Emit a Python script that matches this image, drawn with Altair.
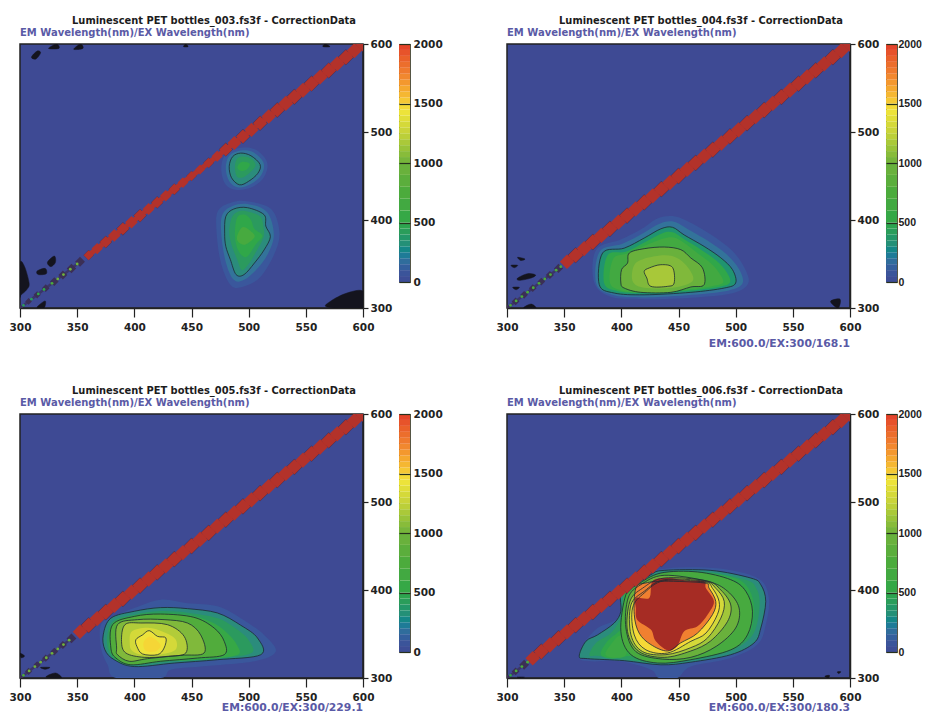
import altair as alt
import pandas as pd

FONT = "DejaVu Sans"
NARROW_FONT = "Liberation Sans"
BG = "#3e4a94"
INK = "#222222"
SUB = "#5a5aa6"

LEVELS = [0, 100, 200, 300, 400, 500, 750, 1000, 1250, 1450, 1550, 1750, 2000, 2100]
COLORS = ["#3e4a94", "#3a579c", "#33739a", "#2b8c7c", "#2b9a5e", "#30a749", "#4cab3c", "#6fb23c",
          "#c4d23a", "#f3e53a", "#f5bf35", "#f08030", "#e23c2a", "#a62c24"]
COLOR_SCALE = alt.Scale(domain=LEVELS, range=COLORS, clamp=True)

NAMES = ["Luminescent PET bottles_003.fs3f - CorrectionData",
         "Luminescent PET bottles_004.fs3f - CorrectionData",
         "Luminescent PET bottles_005.fs3f - CorrectionData",
         "Luminescent PET bottles_006.fs3f - CorrectionData"]
SUBTITLE = "EM Wavelength(nm)/EX Wavelength(nm)"
FOOTERS = ["", "EM:600.0/EX:300/168.1", "EM:600.0/EX:300/229.1", "EM:600.0/EX:300/180.3"]

X_TICKS = [300, 350, 400, 450, 500, 550, 600]
Y_TICKS = [300, 400, 500, 600]
BAR_TICKS = [0, 500, 1000, 1500, 2000]
BAR_EDGES = [0, 50, 100, 150, 200, 250, 300, 350, 400, 450, 500, 600, 700, 800, 900, 1000, 1050, 1100, 1150,
             1200, 1250, 1300, 1350, 1400, 1450, 1500, 1550, 1600, 1650, 1700, 1750, 1800, 1850, 1900, 1950, 2000]

# (level, has contour line, outline)
P1 = [
    (100, 0, [(476,458),(480,475),(493,482),(506,480),(516,466),(514,450),(504,438),(490,434),(480,440)]),
    (200, 0, [(480,459),(483,473),(493,479),(504,477),(513,465),(511,451),(502,441),(491,437),(483,444)]),
    (300, 1, [(483,461),(486,472),(493,476),(502,473),(510,463),(508,453),(500,444),(492,440),(485,448)]),
    (400, 0, [(488,460),(490,470),(497,472),(503,469),(506,462),(502,455),(496,449),(490,449)]),
    (500, 0, [(490,460),(494,466),(501,464),(498,457),(493,456)]),
    (100, 0, [(472,385),(473,410),(485,420),(500,421),(520,412),(527,385),(522,360),(510,335),(497,325),(485,325),(476,350)]),
    (200, 0, [(476,385),(477,406),(486,416),(500,418),(516,409),(522,384),(517,362),(507,344),(496,332),(487,332),(480,352)]),
    (300, 1, [(479,385),(480,404),(487,412.5),(499,414),(513.5,406),(515,393),(519,381),(513.5,366),(505,351),(496,338),(489,338),(484,355),(480,370)]),
    (400, 0, [(483,386),(485,402),(490,409),(498,410),(510,404),(513,392),(513,380),(507,365),(500,350),(494,343),(490,355),(485,372)]),
    (500, 0, [(488,382),(490,403),(497,406),(502,400),(505,390),(512,382),(506,372),(498,358),(491,365)]),
    (700, 0, [(490,382),(495,392),(503,386),(505,380),(497,372),(491,375)]),
]
P2 = [
    (100, 0, [(376,330),(378,366),(400,378),(418,390),(432,402),(447,404),(462,396),(480,382),(497,365),(508,345),(511,328),(498,317),(465,312),(420,310),(390,313)]),
    (200, 0, [(378,328),(381,364),(401,373),(419,385),(434,396),(446,398),(459,389),(476,376),(492,361),(503,344),(506,328),(494,320),(462,315),(420,312),(392,315)]),
    (350, 1, [(380.7,326.5),(383.6,362.5),(402.5,368),(420,379.5),(434.6,390),(444.8,391.7),(455,383),(472.4,370),(487,357),(497.2,343.6),(500,328.4),(490,322.7),(460.8,317.8),(420,315),(393.8,317)]),
    (500, 0, [(385,328),(388,360),(404,364),(421,375),(436,385),(445,386),(455,378),(470,366),(483,354),(492,341),(495,329),(485,324),(460,320),(420,317),(397,319)]),
    (650, 0, [(390,329),(393,356),(405,362),(421,371),(437,379),(446,380),(455,374),(467,362),(478,351),(486,339),(489,329),(480,325),(458,321),(420,318),(400,320)]),
    (950, 1, [(399.6,328.4),(400.2,343.6),(405.4,351),(407,362.5),(420,367.4),(437.5,369.3),(452,366.3),(460.8,356.8),(471,345.5),(472.4,326.5),(460.8,323.9),(443.3,317.8),(417,317.8),(402.5,322.7)]),
    (1050, 0, [(410,330),(411,348),(420,356),(438,360),(450,356),(460,343),(462,330),(445,323),(420,323)]),
    (1170, 1, [(420,341.7),(424.4,345.5),(434.6,349.2),(444.8,346),(446.2,328.4),(440.4,324.6),(425.8,324.6),(422.3,334)]),
]
P3 = [
    (100, 0, [(370.8,360.6),(382.4,370),(400,379.5),(423,389),(446.5,385),(472.7,381.4),(493,368),(513.5,349),(523.7,330),(504.8,319),(458,313),(432,309.5),(423,300),(384,300),(376.6,315),(370.8,334)]),
    (300, 1, [(372.8,349),(379.5,368),(400,375.8),(423,380),(446.5,378.8),(472.7,373.9),(493,360),(507.7,345.5),(510.6,326.5),(472.7,320.8),(434.9,317),(400,313),(382.4,320.8),(374.3,332)]),
    (400, 0, [(376,340),(381,364),(400,372),(423,376),(448,374),(473,368),(488,357),(500,343),(502,328),(470,322),(432,319),(398,315),(382,322)]),
    (550, 0, [(378,338),(381,362),(400,371),(423,374),(450,371),(470,362),(482,350),(490,337),(490,326),(462,321),(428,319),(396,315),(382,324)]),
    (780, 1, [(379.5,334),(381,360.6),(400,370),(423,372.7),(452,369),(469.8,356.8),(478.6,341.7),(478.6,326.5),(455.3,322.7),(423,319),(397,315),(383.9,322.7)]),
    (1050, 1, [(384.5,334),(385.3,360.6),(402.8,366.3),(426,366.3),(446.5,362.5),(458,349),(461,328.4),(440.7,325.8),(411.6,322),(395.5,319),(385.3,326.5)]),
    (1200, 1, [(388.8,341.7),(391.8,360.6),(405.7,362.5),(429,360.6),(443.6,347.3),(445,328.4),(429,324.6),(408.6,323.5),(392.6,328.4)]),
    (1320, 0, [(396,340),(398,353),(412,357),(426,352),(436,344),(436,332),(424,327),(408,326),(398,331)]),
    (1430, 1, [(401.4,343.6),(407.2,349),(413,353.8),(420.3,347.3),(427.6,345.5),(426,334),(420.3,326.5),(407.2,327.3),(402.2,336)]),
    (1490, 0, [(408,340),(413,347),(420,342),(423,336),(418,330),(410,331)]),
]
P4 = [
    (100, 0, [(363.2,322.7),(367.6,339.8),(379.2,356.8),(396.7,368),(402.5,391),(411.3,406),(431.7,423),(481,425),(519,413.6),(529,391),(526.3,360.6),(519,338),(495.7,322.7),(460.8,313),(449,300),(433,300),(425.8,309.5),(399.6,319),(373.4,319)]),
    (300, 1, [(363.2,324.6),(369,341.7),(379.2,349),(393.8,362.5),(399.6,375.8),(399.6,394.7),(408.4,402.3),(425.8,417.4),(437.5,422.3),(478.3,422.3),(513.2,413.6),(522,406),(526.3,387),(522,356.8),(516,339.8),(495.7,326.5),(460.8,318),(434.6,315),(402.5,319.7),(370.5,322)]),
    (400, 0, [(372,326),(378,340),(390,350),(397,362),(402,376),(402,394),(410,402),(428,415),(438,420),(478,420),(510,411),(518,402),(521,386),(518,358),(510,342),(492,329),(460,320),(434,317),(403,321),(380,325)]),
    (500, 0, [(382,327),(388,342),(397,352),(401,360),(402,394),(412,404),(432,418),(470,420),(500,413),(512,400),(516,378),(512,350),(497,333),(461,321),(432,318),(408,325),(392,322)]),
    (600, 0, [(386,327),(392,340),(398,348),(404,345),(404,326),(394,323)]),
    (700, 1, [(404,394.7),(399.6,353),(408.4,326.5),(431.7,317),(460.8,320.8),(495.7,332),(510.3,349),(514.7,375.8),(508.9,398.5),(495.7,411.7),(466.6,420.5),(434.6,419.3),(414,406)]),
    (950, 1, [(406,391),(404,356.8),(412.7,330),(435.9,321.5),(460.8,323.5),(483,336),(500,356.8),(503,379.5),(493,398.5),(475.4,409.9),(437.5,416.7),(417,406)]),
    (1150, 1, [(407.5,387),(405.4,353),(415.6,330),(437.5,323.5),(460.8,330.7),(478,342),(492.8,364),(495.7,383),(487,400),(474,410.6),(437.5,413.6),(418.5,402)]),
    (1320, 1, [(408.4,383),(408.4,349),(418.6,330),(439,326.5),(460.8,334.5),(475.4,345.5),(487,368),(490,387),(482.6,402),(472.4,410),(437.5,411.7),(420,398.5)]),
    (1480, 1, [(409.8,379.5),(411.3,349),(421.5,332),(440.4,328.4),(460.8,341.7),(474,351),(484,372),(485.5,387),(479.7,402),(472.4,409),(437.5,410.6),(420,396.6)]),
    (1750, 1, [(411.3,372),(415.6,351),(425.8,338),(440.4,330.7),(452,340),(466.6,351),(479.7,372),(482.6,387),(476.8,402),(472.4,408),(437.5,410),(421.5,408),(412.7,402)]),
    (2100, 0, [(412.7,379.5),(414,366),(425.8,355),(430,342),(440.4,331.5),(449,336.4),(455,353),(466.6,358.8),(475.4,372),(481,387),(474,402),(472.4,410),(457.8,410.6),(440.4,413.6),(427.3,410),(424.4,391),(412.7,391)]),
]
POLYGONS = [P1, P2, P3, P4]

NOISE = [
    [[(300,351),(304,347),(308,328),(306,321),(301,315),(300,315)],
     [(315,342),(322,345),(323,339),(316,338)],
     [(324,352),(330,359),(331,352),(327,347)],
     [(569,301),(572,308),(586,317),(600,319),(600,300)],
     [(315,301),(322,308),(321,300)],
     [(310,585),(315,592),(318,590),(314,583)],
     [(325,595),(332,600),(334,595)],
     [(347,594),(353,600),(355,595)],
     [(443,597),(445,600),(447,597)],
     [(565,597),(567,600),(571,597)]],
    [[(309.3,357.6),(315.7,355.7),(312,354)],
     [(303.5,348.5),(309.3,348.5),(306.4,345.8)],
     [(309.3,334),(318,339),(325,337.5),(321,334),(310.8,331.4)],
     [(305,323.5),(310.8,323.5),(307.9,320.8)],
     [(314.6,300),(321,304.5),(325,300)],
     [(583,307.6),(591.3,310),(589.5,300)]],
    [[(300,328),(304,325),(301,323)],
     [(322.7,301),(331,305.7),(336,300)],
     [(318,312),(326,312),(322,310)]],
    [[(578,302),(582,303),(581,300)],
     [(309,301),(315,301),(312,300)],
     [(589,307),(592,307),(590,305)]],
]

DIAG_X = [300,307.5,315,322.5,330,337.5,345,352.5,360,367.5,375,382.5,390,397.5,405,412.5,420,427.5,435,442.5,
          450,457.5,465,472.5,480,487.5,495,502.5,510,517.5,525,532.5,540,547.5,555,562.5,570,577.5,585,592.5,600]
RED, LOW = 2100, 0
DIAG_VALUE = [
    [LOW,LOW,LOW,LOW,LOW,LOW,LOW,LOW] + [RED]*33,
    [LOW,LOW,LOW,LOW,LOW,LOW,LOW] + [RED]*34,
    [LOW,LOW,LOW,LOW,LOW,LOW,LOW] + [RED]*34,
    [LOW,LOW,LOW] + [RED]*38,
]
DIAG_SIZE = [
    [45,50,60,70,90,100,110,120, 130,170,200,220,220,220,220,200,190,180,170,150,130,130,140,170,
     250,270,280,290,290,300,310,330,330,330,330,330,330,330,330,330,330],
    [70,70,70,70,70,80,100, 300,330,330,340,340,340,340,340,340,340,340,340,340,340,340,340,340,
     340,340,340,340,340,340,340,340,340,340,340,340,340,340,340,340,340],
    [60,60,60,60,70,80,120, 300,330,340,340,340,340,340,340,340,340,340,340,340,340,340,340,340,
     340,340,340,340,340,340,340,340,340,340,340,340,340,340,340,340,340],
    [60,70,120, 300,330,340,340,340,340,340,340,340,340,340,340,340,340,340,340,340,340,340,340,340,
     340,340,340,340,340,340,340,340,340,340,340,340,340,340,340,340,340],
]
DOT_X = [
    [303,310,316,321,328,333,338,344,350],
    [303,308,313,318,323,328,333,338,343,347],
    [303,308,313,318,323,328,333,338,343],
    [303,308,313,318],
]
DOT_VALUE = [
    [400,400,500,500,750,1000,1000,1000,1000],
    [750,750,750,750,750,750,750,750,750,750],
    [750,1000,1000,1000,1000,1000,1000,1000,1000],
    [500,750,750,750],
]
FOOTER_DROP = [36, 36, 30, 30]


def poly_frame(polys):
    rows = []
    for pid, (level, line, pts) in enumerate(polys):
        for i, (x, y) in enumerate(pts):
            rows.append({"pid": f"{pid:03d}", "i": i, "x": x, "y": y, "level": level, "line": line})
    return pd.DataFrame(rows)


def noise_frame(polys):
    rows = []
    for pid, pts in enumerate(polys):
        for i, (x, y) in enumerate(pts):
            rows.append({"pid": f"{pid:03d}", "i": i, "x": x, "y": y})
    return pd.DataFrame(rows)


X = alt.X("x:Q", scale=alt.Scale(domain=[300, 600], nice=False, zero=False),
          axis=alt.Axis(values=X_TICKS, title=None, grid=False, orient="bottom", labelFont=FONT,
                        labelFontWeight="bold", labelFontSize=10.5, labelColor=INK, tickColor=INK,
                        tickSize=9, tickWidth=1.2, domainColor=INK, domainWidth=1.5, labelPadding=5,
                        format="d", labelFlush=False))
Y = alt.Y("y:Q", scale=alt.Scale(domain=[300, 600], nice=False, zero=False),
          axis=alt.Axis(values=Y_TICKS, title=None, grid=False, orient="right", labelFont=FONT,
                        labelFontWeight="bold", labelFontSize=10.5, labelColor=INK, tickColor=INK,
                        tickSize=5, tickWidth=1.2, domainColor=INK, domainWidth=1.5, labelPadding=2,
                        format="d", labelFlush=False))


def panel(k):
    pf = poly_frame(POLYGONS[k])
    fills = alt.Chart(pf).mark_line(interpolate="cardinal-closed", strokeWidth=0, clip=True).encode(
        x=X, y=Y, order="i:Q", detail="pid:N", fill=alt.Fill("level:Q", scale=COLOR_SCALE, legend=None))
    lines = alt.Chart(pf[pf["line"] == 1]).mark_line(
        interpolate="cardinal-closed", stroke="#1d2b33", strokeWidth=1, strokeOpacity=0.8, clip=True).encode(
        x=X, y=Y, order="i:Q", detail="pid:N")
    noise = alt.Chart(noise_frame(NOISE[k])).mark_line(
        interpolate="cardinal-closed", fill="#14141e", stroke="#14141e", strokeWidth=0.5, clip=True).encode(
        x=X, y=Y, order="i:Q", detail="pid:N")
    dg = pd.DataFrame({"x": DIAG_X, "y": DIAG_X, "v": DIAG_VALUE[k], "s": DIAG_SIZE[k]})
    low_line = alt.Chart(dg[dg["v"] == 0]).mark_line(stroke="#3b3568", strokeWidth=2.5, clip=True).encode(x=X, y=Y)
    red_line = alt.Chart(dg[dg["v"] > 0]).mark_line(stroke="#b3322a", strokeWidth=5, clip=True).encode(x=X, y=Y)
    under = alt.Chart(dg[(dg["v"] == 0) | (dg.index % 2 == 0)]).mark_point(
        shape="diamond", filled=True, opacity=1, color="#3b2f55", strokeWidth=0, clip=True).encode(
        x=X, y=Y, size=alt.Size("s:Q", scale=alt.Scale(domain=[45, 340], range=[40, 265]), legend=None))
    diag = alt.Chart(dg[dg["v"] > 0]).mark_point(
        shape="diamond", filled=True, opacity=1, strokeWidth=0, clip=True).encode(
        x=X, y=Y, fill=alt.value("#b3322a"),
        size=alt.Size("s:Q", scale=alt.Scale(range=[100, 235], domain=[130, 340]), legend=None))
    dots = alt.Chart(pd.DataFrame({"x": DOT_X[k], "y": DOT_X[k], "v": DOT_VALUE[k]})).mark_point(
        shape="circle", filled=True, opacity=1, size=8, strokeWidth=0, clip=True).encode(
        x=X, y=Y, fill=alt.Fill("v:Q", scale=COLOR_SCALE, legend=None))
    title = alt.Chart(pd.DataFrame({"t": [NAMES[k]]})).mark_text(
        font=FONT, fontWeight="bold", fontSize=9.9, color="#1c1c1c", align="center", baseline="middle").encode(
        x=alt.value(194), y=alt.value(-23.5), text="t:N")
    sub = alt.Chart(pd.DataFrame({"t": [SUBTITLE]})).mark_text(
        font=FONT, fontWeight="bold", fontSize=10, color=SUB, align="left", baseline="middle").encode(
        x=alt.value(0), y=alt.value(-11.5), text="t:N")
    layers = [fills, lines, noise, low_line, under, red_line, diag, dots, title, sub]
    if FOOTERS[k]:
        foot = alt.Chart(pd.DataFrame({"t": [FOOTERS[k]]})).mark_text(
            font=FONT, fontWeight="bold", fontSize=10.8, color=SUB, align="right", baseline="middle").encode(
            x=alt.value(343), y=alt.value(264 + FOOTER_DROP[k]), text="t:N")
        layers.append(foot)
    return alt.layer(*layers).resolve_scale(size="independent").properties(
        width=343, height=264, view=alt.ViewBackground(fill=BG, stroke=INK, strokeWidth=1.5))


def colorbar(font, padding):
    df = pd.DataFrame({"lo": BAR_EDGES[:-1], "hi": BAR_EDGES[1:]})
    df["mid"] = (df["lo"] + df["hi"]) / 2
    return alt.Chart(df).mark_rect().encode(
        y=alt.Y("lo:Q", scale=alt.Scale(domain=[0, 2000], nice=False),
                axis=alt.Axis(values=BAR_TICKS, title=None, orient="right", grid=True, gridColor="#26301c",
                              gridWidth=1.2, zindex=1, domain=False, ticks=False, labelFont=font,
                              labelFontWeight="bold", labelFontSize=10.5, labelColor=INK, labelPadding=padding,
                              tickSize=0, format="d", labelFlush=False)),
        y2="hi:Q",
        fill=alt.Fill("mid:Q", scale=COLOR_SCALE, legend=None),
    ).properties(width=11, height=238, view=alt.ViewBackground(stroke="#555544", strokeWidth=1))


def spacer():
    return alt.Chart(pd.DataFrame({"t": [0]})).mark_rule(opacity=0).encode(x=alt.value(0)).properties(
        width=25, height=10, view=alt.ViewBackground(stroke=None))


views = [panel(0), colorbar(FONT, 3), spacer(), panel(1), colorbar(NARROW_FONT, 1),
         panel(2), colorbar(FONT, 3), spacer(), panel(3), colorbar(NARROW_FONT, 1)]
chart = alt.concat(*views, columns=5, spacing=alt.RowColnumber(column=36, row=106), bounds="flush").resolve_scale(
    fill="independent", x="independent", y="independent"
).properties(padding={"left": 0, "top": 6, "right": 0, "bottom": 0}, background="white")

chart.save("out.html", embed_options={"renderer": "svg", "actions": False})
